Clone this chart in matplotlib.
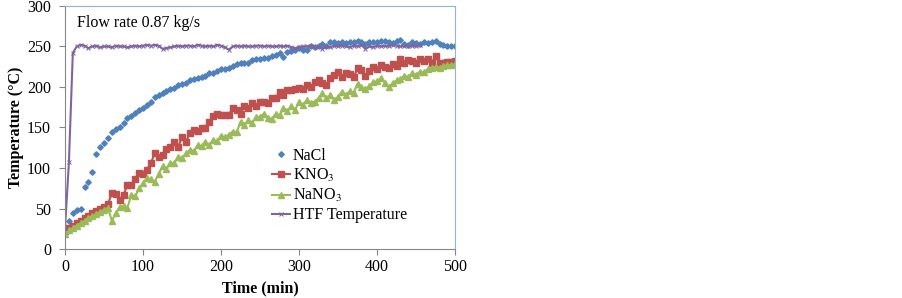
import numpy as np
import matplotlib
matplotlib.use("Agg")
import matplotlib.pyplot as plt

plt.rcParams['font.family'] = ['Liberation Serif', 'DejaVu Serif']
plt.rcParams['mathtext.fontset'] = 'stix'

# sampling every 5 min
t = np.arange(0, 505, 5)

nacl = [27, 35, 45, 48, 50, 76, 83, 95, 117, 126,
        131, 137, 144, 148, 150, 156, 162, 164, 168, 171,
        174, 178, 182, 188, 190, 192, 195, 197, 199, 202,
        204, 205, 208, 210, 211, 212, 214, 217, 217, 220,
        222, 222, 224, 226, 228, 229, 230, 230, 233, 235,
        235, 236, 236, 238, 240, 242, 237, 243, 245, 246,
        248, 246, 246, 250, 249, 251, 253, 251, 255, 256,
        254, 256, 254, 256, 255, 257, 256, 253, 255, 256,
        255, 257, 257, 256, 254, 257, 258, 253, 252, 255,
        254, 253, 255, 254, 256, 257, 253, 252, 251, 251,
        251]

kno3 = [22, 26, 29, 32, 35, 38, 41, 44, 47, 50,
        52, 55, 69, 68, 61, 67, 79, 79, 87, 94,
        93, 98, 106, 118, 114, 116, 123, 126, 132, 126,
        138, 132, 143, 147, 146, 149, 149, 157, 164, 167,
        165, 165, 166, 174, 172, 167, 176, 174, 180, 176,
        182, 181, 180, 186, 186, 194, 190, 196, 196, 198,
        199, 197, 203, 200, 206, 209, 205, 202, 211, 215,
        219, 212, 217, 216, 212, 223, 221, 213, 220, 225,
        222, 227, 225, 223, 228, 226, 234, 230, 233, 232,
        230, 235, 232, 234, 230, 238, 229, 230, 231, 231,
        232]

nano3 = [19, 23, 26, 29, 32, 35, 38, 41, 43, 46,
         48, 51, 35, 44, 52, 53, 51, 67, 65, 75,
         81, 88, 86, 83, 93, 102, 99, 106, 106, 114,
         112, 118, 122, 121, 128, 127, 132, 128, 135, 133,
         140, 138, 141, 145, 144, 157, 153, 159, 156, 163,
         163, 167, 162, 160, 167, 165, 174, 170, 176, 172,
         182, 178, 184, 180, 182, 186, 192, 186, 190, 184,
         188, 194, 190, 195, 193, 204, 200, 198, 201, 206,
         207, 211, 205, 200, 205, 208, 210, 214, 212, 217,
         215, 219, 218, 222, 223, 225, 224, 226, 227, 227,
         228]

# HTF logged only up to ~455 min
htf = [26, 107, 242, 250, 252, 251, 248, 250, 251, 249,
       250, 250, 249, 251, 250, 250, 249, 250, 251, 250,
       251, 252, 251, 252, 251, 247, 248, 249, 250, 251,
       250, 251, 251, 250, 252, 251, 250, 251, 250, 252,
       251, 249, 246, 250, 251, 250, 251, 250, 250, 251,
       251, 250, 251, 250, 250, 251, 250, 251, 249, 248,
       249, 250, 250, 251, 249, 250, 247, 250, 249, 251,
       250, 251, 250, 249, 251, 250, 252, 247, 250, 249,
       251, 250, 251, 250, 252, 251, 250, 251, 250, 251,
       250, 252]
t_htf = t[:len(htf)]

fig = plt.figure(figsize=(9.03, 2.98), dpi=100)
ax = fig.add_axes([0.072, 0.1644, 0.432, 0.8156])

ax.plot(t, nacl, ls='none', marker='D', ms=2.8, color='#4F81BD', label='NaCl')
ax.plot(t, kno3, '-', marker='s', ms=4.5, lw=1.5, color='#C0504D', label='KNO$_3$')
ax.plot(t, nano3, '-', marker='^', ms=3.8, lw=1.5, color='#9BBB59', label='NaNO$_3$')
ax.plot(t_htf, htf, '-', marker='x', ms=3, mew=0.7, lw=1.5, color='#8064A2',
        label='HTF Temperature')

ax.set_xlim(0, 500)
ax.set_ylim(0, 300)
ax.set_xticks([0, 100, 200, 300, 400, 500])
ax.set_yticks([0, 50, 100, 150, 200, 250, 300])
ax.tick_params(direction='out', length=4, width=0.8, color='#868686',
               labelsize=11.5)
ax.tick_params(axis='y', pad=6)
ax.tick_params(axis='x', pad=3)

for s in ('left', 'bottom'):
    ax.spines[s].set_color('#868686')
for s in ('top', 'right'):
    ax.spines[s].set_color('#95B3D7')

ax.set_xlabel('Time (min)', fontsize=11.5, fontweight='bold', labelpad=4)
ax.set_ylabel('Temperature (°C)', fontsize=11.5, fontweight='bold', labelpad=2)

ax.text(0.03, 0.93, 'Flow rate 0.87 kg/s', transform=ax.transAxes,
        fontsize=11.5, va='center')

ax.legend(loc='upper left', bbox_to_anchor=(0.51, 0.45), frameon=False,
          fontsize=11.5, handlelength=1.1, handletextpad=0.2, labelspacing=0.2,
          borderpad=0)

fig.savefig('out.png', dpi=100, facecolor='white')
